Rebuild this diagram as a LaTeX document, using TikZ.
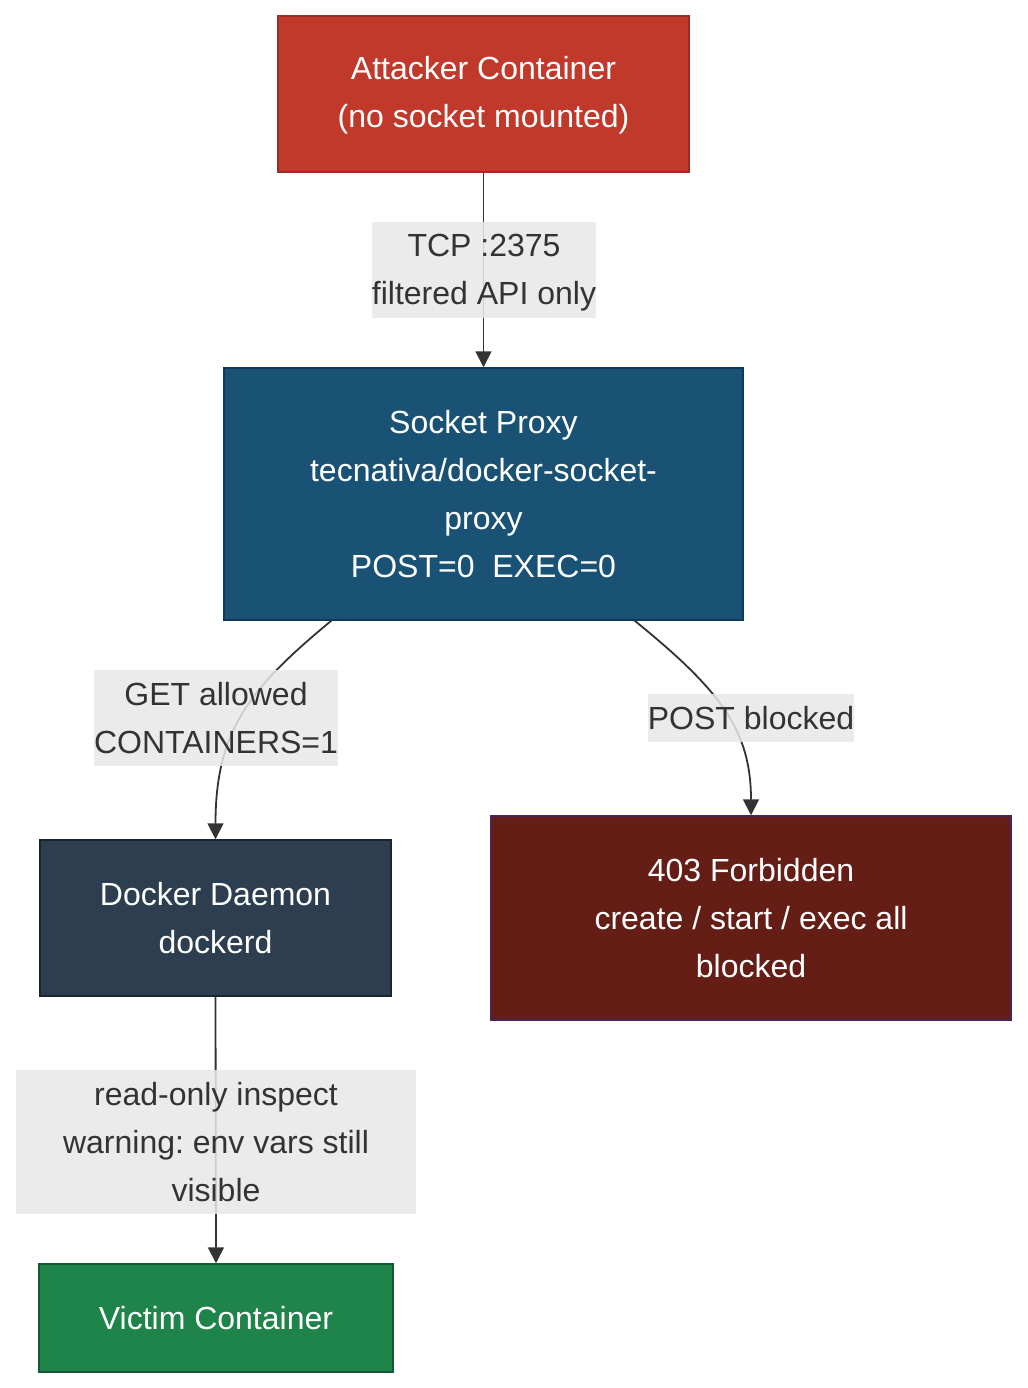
\documentclass[tikz,border=0pt]{standalone}
\usepackage{fontspec}
\setmainfont{Liberation Sans}
\frenchspacing
\usetikzlibrary{arrows.meta,calc}
\definecolor{edgec}{HTML}{333333}
\definecolor{lblbg}{HTML}{E8E8E8}
\definecolor{atkfill}{HTML}{C0392B}
\definecolor{atkdraw}{HTML}{9B2D22}
\definecolor{pxfill}{HTML}{1A5276}
\definecolor{pxdraw}{HTML}{0E3A57}
\definecolor{dmfill}{HTML}{2C3E50}
\definecolor{dmdraw}{HTML}{1A252F}
\definecolor{fbfill}{HTML}{641E16}
\definecolor{fbdraw}{HTML}{4A235A}
\definecolor{vcfill}{HTML}{1E8449}
\definecolor{vcdraw}{HTML}{145A32}
\begin{document}
\begin{tikzpicture}[x=1pt,y=-1pt,
  box/.style={rectangle,inner sep=0pt,line width=1.5pt,text=white,align=center,
    font=\fontsize{32}{48}\selectfont},
  lbl/.style={rectangle,inner sep=0pt,fill=lblbg,fill opacity=0.85,text opacity=1,text=edgec,align=center,
    font=\fontsize{32}{48}\selectfont},
  conn/.style={draw=edgec,line width=1.8pt,-{Triangle[length=16pt,width=16pt]}}]
\useasboundingbox (0,0) rectangle (1027,1388);
\fill[white] (0,0) rectangle (1027,1388);

\node[box,fill=atkfill,draw=atkdraw,minimum width=411pt,minimum height=156pt] (atk) at (483.5,94)
  {\rule{0pt}{26pt}Attacker Container\\(no socket mounted)};
\node[box,fill=pxfill,draw=pxdraw,minimum width=519pt,minimum height=252pt] (px) at (483.5,494)
  {Socket Proxy\\tecnativa/docker-socket-\\proxy\\POST=0\ \ EXEC=0};
\node[box,fill=dmfill,draw=dmdraw,minimum width=351pt,minimum height=156pt] (dm) at (215.5,918)
  {Docker Daemon\\dockerd};
\node[box,fill=fbfill,draw=fbdraw,minimum width=520pt,minimum height=204pt] (fb) at (751,918)
  {403 Forbidden\\create / start / exec all\\blocked};
\node[box,fill=vcfill,draw=vcdraw,minimum width=354pt,minimum height=108pt] (vc) at (216,1318)
  {Victim Container};

\coordinate (pxl) at ($(px.south west)+(108,0)$);
\coordinate (pxr) at ($(px.south east)+(-109,0)$);

\draw[conn] (atk.south) -- (px.north);
\draw[conn] (pxl) .. controls (250,688) and (215.5,730) .. (dm.north);
\draw[conn] (pxr) .. controls (720,690) and (751,730) .. (fb.north);
\draw[conn] (dm.south) -- (vc.north);

\node[lbl,minimum width=224pt,minimum height=96pt] (l1) at (484,270) {\rule{0pt}{27pt}TCP :2375\\filtered API only};
\node[lbl,minimum width=244pt,minimum height=96pt] (l2) at (216,718) {GET allowed\\CONTAINERS=1};
\node[lbl,minimum width=206pt,minimum height=48pt] (l3) at (751,718) {POST blocked};
\node[lbl,minimum width=400pt,minimum height=144pt] (l4) at (216,1142) {read-only inspect\\warning: env vars still\\visible};
\end{tikzpicture}
\end{document}
